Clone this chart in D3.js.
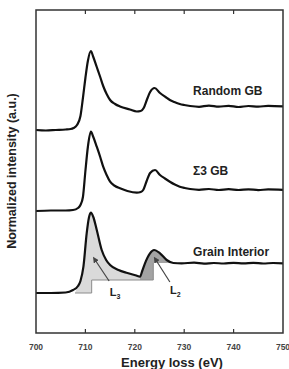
<!DOCTYPE html>
<html lang="en">
<head>
  <meta charset="utf-8">
  <title>Fe L-edge EELS spectra</title>
  <script src="https://d3js.org/d3.v7.min.js"></script>
  <style>
    body { margin: 0; background: #fff; }
    text { font-family: "Liberation Sans", Arial, sans-serif; font-weight: bold; }
  </style>
</head>
<body>
  <svg id="chart" width="289" height="369"></svg>
  <script>
    // energy loss (eV) and normalized intensity (a.u., already stacked)
    const randomGB = [
      [700, 2.03], [702, 2.025], [704, 2.03], [706, 2.035], [707, 2.04], [707.6, 2.05],
      [708.3, 2.08], [709, 2.17], [709.5, 2.35], [710, 2.55], [710.5, 2.72], [711.1, 2.82],
      [711.6, 2.76], [712.3, 2.66], [713, 2.56], [713.6, 2.47], [714.3, 2.39], [715, 2.33],
      [716, 2.29], [717, 2.265], [719, 2.235], [720.4, 2.215], [721.2, 2.22], [721.8, 2.25],
      [722.5, 2.34], [723.1, 2.41], [724, 2.45], [725.1, 2.40], [726.2, 2.36], [727.1, 2.33],
      [728, 2.31], [729.1, 2.29], [730, 2.28], [731.2, 2.27], [733, 2.262], [735, 2.274],
      [737, 2.263], [739, 2.272], [741, 2.26], [743, 2.27], [745, 2.263], [747, 2.272],
      [750, 2.266]
    ];
    const sigma3GB = [
      [700, 1.22], [703, 1.225], [706, 1.225], [707.5, 1.23], [708.5, 1.25], [709, 1.28],
      [709.5, 1.36], [710, 1.62], [710.5, 1.86], [711.1, 2.013], [711.6, 1.96], [712.3, 1.863],
      [713, 1.76], [713.6, 1.663], [714.3, 1.58], [715, 1.513], [716, 1.47], [717, 1.447],
      [718.5, 1.42], [720.4, 1.403], [721.2, 1.41], [721.7, 1.43], [722.4, 1.52], [723.1, 1.60],
      [724.1, 1.63], [725.1, 1.58], [726.1, 1.545], [727.1, 1.513], [728.1, 1.485],
      [729.1, 1.463], [730.1, 1.45], [731.2, 1.44], [733, 1.432], [735, 1.44], [737, 1.43],
      [739, 1.438], [741, 1.43], [743, 1.437], [745, 1.429], [747, 1.436], [750, 1.432]
    ];
    const grainInterior = [
      [700, 0.40], [703, 0.40], [706, 0.405], [707.5, 0.43], [708.5, 0.47], [709, 0.52],
      [709.6, 0.663], [710.26, 0.997], [710.7, 1.15], [711.1, 1.203], [711.6, 1.16],
      [712.3, 1.03], [713.3, 0.83], [714.2, 0.73], [715, 0.68], [716.7, 0.63], [718.5, 0.60],
      [720.3, 0.575], [721.05, 0.563], [721.5, 0.62], [722.06, 0.697], [723.07, 0.797],
      [723.9, 0.83], [725.1, 0.797], [726.45, 0.73], [727.8, 0.70], [729.5, 0.697],
      [732, 0.703], [734, 0.694], [736, 0.70], [738, 0.695], [740, 0.702], [742, 0.696],
      [744, 0.701], [746, 0.695], [748, 0.70], [750, 0.697]
    ];
    // two-step background under the L3 and L2 edges
    const l3Step = [[707.9, 0.40], [711.27, 0.40], [711.27, 0.53], [721.05, 0.53]];
    const l2Step = [[721.05, 0.53], [723.74, 0.53], [723.74, 0.70], [727.8, 0.70]];
    const stepLine = [[707.9, 0.40], [711.27, 0.40], [711.27, 0.53], [723.74, 0.53], [723.74, 0.70]];

    const xTicks = [700, 710, 720, 730, 740, 750];
    const spectrumLabels = [
      { text: "Random GB", e: 731.8, v: 2.38 },
      { text: "\u03a33 GB", e: 731.8, v: 1.58 },
      { text: "Grain Interior", e: 731.8, v: 0.77 }
    ];
    const edgeLabels = [
      { name: "L", sub: "3", from: [712.1, 0.72], to: [714.8, 0.52], at: [716.0, 0.37] },
      { name: "L", sub: "2", from: [724.4, 0.72], to: [727.1, 0.51], at: [728.2, 0.39] }
    ];

    const svg = d3.select("#chart");
    const m = { left: 36, right: 283, top: 10, bottom: 333 };

    const x = d3.scaleLinear().domain([700, 750]).range([m.left, m.right]);
    const y = d3.scaleLinear().domain([0, 3.23]).range([m.bottom, m.top]);

    const line = d3.line()
      .x(d => x(d[0]))
      .y(d => y(d[1]))
      .curve(d3.curveMonotoneX);
    const straight = d3.line().x(d => x(d[0])).y(d => y(d[1]));

    // shaded edge regions: curve on top, step background below
    function edgeArea(lo, hi, step) {
      const upper = grainInterior.filter(d => d[0] >= lo && d[0] <= hi);
      const back = step.slice().reverse().map(d => "L" + x(d[0]) + "," + y(d[1])).join("");
      return line(upper) + back + "Z";
    }
    svg.append("path").attr("d", edgeArea(707.9, 721.05, l3Step)).attr("fill", "#dadada");
    svg.append("path").attr("d", edgeArea(721.05, 727.8, l2Step)).attr("fill", "#a3a3a3");
    svg.append("path").attr("d", straight(stepLine))
      .attr("fill", "none").attr("stroke", "#8c8c8c").attr("stroke-width", 1);

    [randomGB, sigma3GB, grainInterior].forEach(s => {
      svg.append("path").datum(s)
        .attr("d", line)
        .attr("fill", "none")
        .attr("stroke", "#111")
        .attr("stroke-width", 2.2)
        .attr("stroke-linejoin", "round");
    });

    // frame and inward ticks
    svg.append("rect")
      .attr("x", m.left).attr("y", m.top)
      .attr("width", m.right - m.left).attr("height", m.bottom - m.top)
      .attr("fill", "none").attr("stroke", "#333").attr("stroke-width", 1.5);

    const inner = xTicks.slice(1, -1);
    svg.append("g").selectAll("line").data(inner).join("line")
      .attr("x1", d => x(d)).attr("x2", d => x(d))
      .attr("y1", m.top).attr("y2", m.top + 4)
      .attr("stroke", "#333").attr("stroke-width", 1.2);
    svg.append("g").selectAll("line").data(inner).join("line")
      .attr("x1", d => x(d)).attr("x2", d => x(d))
      .attr("y1", m.bottom).attr("y2", m.bottom - 4)
      .attr("stroke", "#333").attr("stroke-width", 1.2);

    svg.append("g").selectAll("text").data(xTicks).join("text")
      .attr("x", d => x(d)).attr("y", 350)
      .attr("text-anchor", "middle")
      .attr("font-size", 8.5)
      .attr("fill", "#444")
      .text(d => d);

    svg.append("text")
      .attr("x", 172).attr("y", 367)
      .attr("text-anchor", "middle")
      .attr("font-size", 13)
      .attr("fill", "#222")
      .text("Energy loss (eV)");

    svg.append("text")
      .attr("transform", "translate(16,171) rotate(-90)")
      .attr("text-anchor", "middle")
      .attr("font-size", 12.5)
      .attr("fill", "#222")
      .text("Normalized intensity (a.u.)");

    svg.append("g").selectAll("text").data(spectrumLabels).join("text")
      .attr("x", d => x(d.e)).attr("y", d => y(d.v))
      .attr("font-size", 12)
      .attr("fill", "#222")
      .text(d => d.text);

    // pointers to the L3 / L2 areas
    svg.append("defs").append("marker")
      .attr("id", "head")
      .attr("viewBox", "0 0 6 6").attr("refX", 1).attr("refY", 3)
      .attr("markerWidth", 5).attr("markerHeight", 5)
      .attr("orient", "auto-start-reverse")
      .append("path").attr("d", "M0,0L6,3L0,6Z").attr("fill", "#444");

    const edges = svg.append("g").selectAll("g").data(edgeLabels).join("g");
    edges.append("line")
      .attr("x1", d => x(d.from[0])).attr("y1", d => y(d.from[1]))
      .attr("x2", d => x(d.to[0])).attr("y2", d => y(d.to[1]))
      .attr("stroke", "#444").attr("stroke-width", 1.2)
      .attr("marker-start", "url(#head)");
    const lbl = edges.append("text")
      .attr("x", d => x(d.at[0])).attr("y", d => y(d.at[1]))
      .attr("text-anchor", "middle")
      .attr("font-size", 11)
      .attr("fill", "#222")
      .text(d => d.name);
    lbl.append("tspan")
      .attr("font-size", 7)
      .attr("dy", 3)
      .text(d => d.sub);
  </script>
</body>
</html>
